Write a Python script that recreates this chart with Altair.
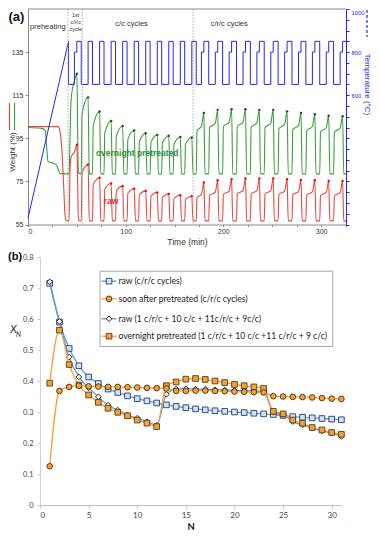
import altair as alt
import pandas as pd

# ================= (a) thermogravimetric run =================
# temperature programme (min, degC)
ramp_t = [0.0, 41.5]
ramp_temp = [30, 850]
first_crc_t = [41.5, 47.5, 50.0, 54.5]          # 650 start, 800 start, 850 start, 650 start
cc_high_start = [61.5, 73.3, 85.1, 96.9, 108.7, 120.5, 132.3, 144.1, 155.9, 167.7]
cc_high_len = 4.5
crc_notch_start = [177.5, 191.7, 205.9, 220.1, 234.3, 248.5, 262.7, 276.9, 291.1, 305.3, 319.5]
crc_notch_len = 2.5
crc_high_len = 5.0
T_LOW, T_MID, T_HIGH = 650, 800, 850
t_end = 325.5

# weight (%)
green_init_t = [0, 14, 17.5, 19.3, 20.5, 25, 29, 31, 33]
green_init_w = [100, 99.6, 98.8, 90, 84.2, 83.6, 82.8, 80.5, 78.6]
red_init_t = [0, 30.5, 32, 33.5, 35, 36.5, 37.8, 38.8]
red_init_w = [100.5, 100.4, 99.5, 96, 87, 73, 60, 56.9]
first_cycle_t = [42.0, 43.0, 44.0, 45.5, 47.5, 50.0, 50.8, 51.6]
green_first_w = [78.5, 95, 112, 118, 121.5, 125, 100, 79]
red_first_w = [56.7, 80, 86, 87.5, 88.5, 92, 75, 57]
green_base = 78.5
red_base = 56.7
green_cc_shoulder = [106, 101, 97.5, 96, 94.5, 93.5, 93, 92.8, 92.3, 92.2]
green_cc_peak = [114.0, 107.4, 103.0, 100.7, 98.6, 97.3, 96.6, 96.2, 95.6, 95.4]
red_cc_shoulder = [79, 73.5, 71.5, 70.5, 69.5, 68.8, 68.2, 67.6, 67.1, 66.7]
red_cc_peak = [82.8, 76.7, 74.0, 72.8, 71.6, 70.6, 69.9, 69.2, 68.6, 68.1]
green_crc_kink = [98.5, 100, 100.5, 100.5, 100.2, 100, 99.5, 99, 98.5, 98, 97.8]
green_crc_knee = [100.5, 102, 102.5, 102.5, 102.2, 102, 101.5, 101, 100.5, 100, 99.8]
green_crc_peak = [106.7, 108.2, 108.5, 108.5, 108.2, 108.2, 107.5, 106.7, 106.2, 105.5, 105.2]
red_crc_kink = [67.5, 68.5, 69.0, 69.2, 69.2, 69.2, 69.0, 68.8, 68.6, 68.4, 68.3]
red_crc_knee = [69.0, 70.0, 70.5, 70.7, 70.7, 70.7, 70.5, 70.3, 70.1, 69.9, 69.8]
red_crc_peak = [74.5, 75.5, 76.0, 76.3, 76.3, 76.3, 76.0, 75.7, 75.5, 75.2, 75.2]

phase_lines = [41.0, 55.5, 169.0]

# ================= (b) conversion per cycle =================
N = list(range(1, 32))
raw_crc = [0.715, 0.59, 0.505, 0.449, 0.413, 0.392, 0.374, 0.363, 0.352, 0.343, 0.336,
           0.329, 0.323, 0.318, 0.314, 0.31, 0.307, 0.304, 0.302, 0.3, 0.298, 0.296,
           0.294, 0.292, 0.289, 0.285, 0.283, 0.281, 0.279, 0.277, 0.275]
soon_crc = [0.125, 0.368, 0.381, 0.385, 0.383, 0.382, 0.381, 0.381, 0.38, 0.379, 0.378,
            0.377, 0.376, 0.368, 0.368, 0.369, 0.369, 0.368, 0.367, 0.366, 0.365, 0.364,
            0.363, 0.351, 0.35, 0.349, 0.348, 0.347, 0.345, 0.343, 0.342]
raw_mixed = [0.72, 0.592, 0.477, 0.413, 0.378, 0.349, 0.322, 0.306, 0.29, 0.28, 0.269,
             0.258, 0.357, 0.374, 0.375, 0.374, 0.373, 0.372, 0.371, 0.37, 0.369, 0.368,
             0.366, 0.30, 0.292, 0.269, 0.258, 0.248, 0.239, 0.232, 0.221]
overnight_mixed = [0.393, 0.564, 0.453, 0.387, 0.355, 0.331, 0.312, 0.299, 0.288, 0.274,
                   0.264, 0.253, 0.385, 0.397, 0.406, 0.408, 0.405, 0.4, 0.395, 0.389,
                   0.385, 0.381, 0.376, 0.302, 0.294, 0.274, 0.264, 0.25, 0.242, 0.234, 0.228]
legend_labels = ["raw (c/r/c cycles)",
                 "soon after pretreated (c/r/c cycles)",
                 "raw (1 c/r/c + 10 c/c + 11c/r/c + 9c/c)",
                 "overnight pretreated (1 c/r/c + 10 c/c +11 c/r/c + 9 c/c)"]

# ---------------- build tables ----------------
temp_pts = [(ramp_t[0], ramp_temp[0]), (ramp_t[1], ramp_temp[1]), (first_crc_t[0], T_LOW),
            (first_crc_t[1], T_LOW), (first_crc_t[1], T_MID), (first_crc_t[2], T_MID),
            (first_crc_t[2], T_HIGH), (first_crc_t[3], T_HIGH), (first_crc_t[3], T_LOW)]
for h in cc_high_start:
    temp_pts += [(h, T_LOW), (h, T_HIGH), (h + cc_high_len, T_HIGH), (h + cc_high_len, T_LOW)]
for r in crc_notch_start:
    top = r + crc_notch_len
    end = top + crc_high_len
    temp_pts += [(r, T_LOW), (r, T_MID), (top, T_MID), (top, T_HIGH)]
    if end <= t_end:
        temp_pts += [(end, T_HIGH), (end, T_LOW)]
    else:
        temp_pts += [(t_end, T_HIGH)]
temp_df = pd.DataFrame(temp_pts, columns=["t", "temp"])
temp_df["i"] = range(len(temp_df))


def weight_curve(init_t, init_w, first_w, base, cc_sh, cc_pk, crc_k1, crc_k2, crc_pk):
    pts = list(zip(init_t, init_w)) + list(zip(first_cycle_t, first_w))
    peaks = [(first_cycle_t[5], first_w[5])]
    prev_end = first_crc_t[3]
    for h, sh, pk in zip(cc_high_start, cc_sh, cc_pk):
        pts += [(prev_end, base), (prev_end + 0.8, sh), (h, pk), (h + 1.2, base)]
        peaks.append((h, pk))
        prev_end = h + cc_high_len
    for r, k1, k2, pk in zip(crc_notch_start, crc_k1, crc_k2, crc_pk):
        top = r + crc_notch_len
        pts += [(prev_end, base), (prev_end + 0.8, k1), (r, k2), (top, pk), (top + 1.2, base)]
        peaks.append((top, pk))
        prev_end = top + crc_high_len
    pts.append((t_end, base))
    return (pd.DataFrame(pts, columns=["t", "w"]), pd.DataFrame(peaks, columns=["t", "w"]))


green_df, green_pk = weight_curve(green_init_t, green_init_w, green_first_w, green_base,
                                  green_cc_shoulder, green_cc_peak, green_crc_kink,
                                  green_crc_knee, green_crc_peak)
red_df, red_pk = weight_curve(red_init_t, red_init_w, red_first_w, red_base,
                              red_cc_shoulder, red_cc_peak, red_crc_kink,
                              red_crc_knee, red_crc_peak)

# ---------------- layout (one view inside the page margins, px) ----------------
VW, VH = 364, 522
A_L, A_R, A_T, A_B = 20, 338, 1, 216.5       # panel (a) plot area
B_L, B_R, B_T, B_B = 32, 333.4, 249, 497     # panel (b) plot area

FA = "Liberation Sans"
FB = "Lato"
BLUE_T = "#2626D9"
GREEN = "#3C9E3C"
RED = "#E8463E"
one = pd.DataFrame({"a": [0]})

x_a = alt.X("t:Q", scale=alt.Scale(domain=[0, t_end], range=[A_L, A_R], nice=False, zero=False),
            axis=alt.Axis(orient="bottom", offset=A_B - VH, values=list(range(0, 326, 25)),
                          labelExpr="datum.value % 100 === 0 ? datum.label : ''",
                          title="Time (min)", titleFont=FA, titleFontSize=8.5,
                          titleFontWeight="normal", titleColor="#333", titlePadding=3,
                          labelFont=FA, labelFontSize=7, labelColor="#333", labelPadding=1,
                          tickSize=2, domainColor="#888", tickColor="#888", grid=False))
y_w = alt.Y("w:Q", scale=alt.Scale(domain=[55, 155], range=[A_B, A_T], nice=False, zero=False),
            axis=alt.Axis(orient="left", offset=-A_L, values=[55, 75, 95, 115, 135], title=None,
                          labelFont=FA, labelFontSize=7, labelColor="#333", labelPadding=2,
                          tickSize=3, domainColor="#888", tickColor="#888", grid=False))

green_line = alt.Chart(green_df).mark_line(interpolate="monotone", color=GREEN,
                                           strokeWidth=1.1).encode(x=x_a, y=y_w)
red_line = alt.Chart(red_df).mark_line(interpolate="monotone", color=RED,
                                       strokeWidth=1.1).encode(x=x_a, y=y_w)
green_tip = alt.Chart(green_pk).mark_circle(size=6, color="#145A14", opacity=1).encode(x=x_a, y=y_w)
red_tip = alt.Chart(red_pk).mark_circle(size=6, color="#FF0000", opacity=1).encode(x=x_a, y=y_w)
curve_labels = alt.Chart(pd.DataFrame({"t": [111.8, 84.9], "w": [88.3, 65.8],
                                       "txt": ["overnight pretreated", "raw"],
                                       "c": ["g", "r"]})).mark_text(
    font=FA, fontSize=8.5, fontWeight="bold").encode(
    x=x_a, y=y_w, text="txt:N",
    color=alt.Color("c:N", scale=alt.Scale(domain=["g", "r"], range=["#2E8B3A", "#E0302A"]),
                    legend=None))
weight_group = alt.layer(green_line, red_line, green_tip, red_tip, curve_labels)

temp_line = alt.Chart(temp_df).mark_line(color=BLUE_T, strokeWidth=1).encode(
    x=x_a,
    y=alt.Y("temp:Q", scale=alt.Scale(domain=[0, 1000], range=[A_B, A_T], nice=False),
            axis=alt.Axis(orient="right", offset=A_R - VW, values=list(range(0, 1001, 50)),
                          title=None,
                          labelExpr="datum.value >= 600 && datum.value % 200 === 0 ? datum.label : ''",
                          labelFont=FA, labelFontSize=5.8, labelColor=BLUE_T, labelPadding=2,
                          tickSize=3, domainColor=BLUE_T, tickColor=BLUE_T, labelFlush=True,
                          grid=False, format="d")),
    order="i:Q")

phase_rules = alt.Chart(pd.DataFrame({"t": phase_lines})).mark_rule(
    color="#A8A8A8", strokeDash=[1.5, 1.5], strokeWidth=1).encode(
    x=x_a, y=alt.value(A_T), y2=alt.value(A_B))
top_border = alt.Chart(one).mark_rule(color="#888").encode(
    x=alt.value(A_L), x2=alt.value(A_R), y=alt.value(A_T))

phase_txt = []
for t, yv, txt, fs in [(20.3, 18.5, "preheating", 7.5), (106, 15.5, "c/c cycles", 7.5),
                       (206, 16, "c/r/c cycles", 7.5), (48.8, 7, "1st", 5.5),
                       (48.8, 14, "c/r/c", 5.5), (48.8, 21, "cycle", 5.5)]:
    phase_txt.append(alt.Chart(pd.DataFrame({"t": [t], "txt": [txt]})).mark_text(
        font=FA, fontSize=fs, color="#333").encode(x=x_a, y=alt.value(yv), text="txt:N"))

label_a = alt.Chart(pd.DataFrame({"txt": ["(a)"]})).mark_text(
    font=FA, fontSize=13, fontWeight="bold", align="left", baseline="middle", color="#111").encode(
    x=alt.value(0.5), y=alt.value(9), text="txt:N")
red_key = alt.Chart(one).mark_rule(color=RED, strokeWidth=1.2).encode(
    x=alt.value(1.5), y=alt.value(95), y2=alt.value(122))
green_key = alt.Chart(one).mark_rule(color=GREEN, strokeWidth=1.2).encode(
    x=alt.value(6.5), y=alt.value(95), y2=alt.value(122))
weight_title = alt.Chart(pd.DataFrame({"txt": ["Weight (%)"]})).mark_text(
    font=FA, fontSize=8, angle=270, color="#333").encode(
    x=alt.value(4.8), y=alt.value(144), text="txt:N")
temp_title = alt.Chart(pd.DataFrame({"txt": ["Temperature (°C)"]})).mark_text(
    font=FA, fontSize=8, angle=90, color=BLUE_T).encode(
    x=alt.value(359), y=alt.value(76.5), text="txt:N")
temp_key = alt.Chart(one).mark_rule(color=BLUE_T, strokeWidth=1.2, strokeDash=[3, 2]).encode(
    x=alt.value(359), y=alt.value(2), y2=alt.value(29))

layer_a = alt.layer(weight_group, temp_line, phase_rules, top_border, *phase_txt,
                    label_a, red_key, green_key, weight_title, temp_title, temp_key
                    ).resolve_scale(y="independent")

# ---------------- panel (b) ----------------
BLUE = "#5B9BD5"
ORANGE = "#F4A13A"
MSIZE = 32
x_b = alt.X("N:Q", scale=alt.Scale(domain=[0, 31], range=[B_L, B_R], nice=False),
            axis=alt.Axis(orient="bottom", offset=B_B - VH, values=[0, 5, 10, 15, 20, 25, 30],
                          title="N", titleFont=FB, titleFontSize=9.5, titleFontWeight="bold",
                          titleColor="#222", titlePadding=2, labelFont=FB, labelFontSize=8,
                          labelColor="#444", labelPadding=3, tickSize=3, domainColor="#BFBFBF",
                          tickColor="#BFBFBF", grid=False))
y_b = alt.Y("v:Q", scale=alt.Scale(domain=[0, 0.8], range=[B_B, B_T], nice=False),
            axis=alt.Axis(orient="left", offset=-B_L,
                          values=[0, 0.1, 0.2, 0.3, 0.4, 0.5, 0.6, 0.7, 0.8], format=".1~f",
                          title=None, labelFont=FB, labelFontSize=7.5, labelColor="#444",
                          labelPadding=4, tickSize=3, domainColor="#D0D0D0",
                          tickColor="#D0D0D0", grid=False))

series = [
    (legend_labels[0], raw_crc, BLUE, "square", "#D3E1F2", "#1F3B73"),
    (legend_labels[2], raw_mixed, BLUE, "diamond", "#FFFFFF", "#111111"),
    (legend_labels[3], overnight_mixed, ORANGE, "square", ORANGE, "#5A3A10"),
    (legend_labels[1], soon_crc, ORANGE, "circle", ORANGE, "#4A300A"),
]
b_layers = []
for name, vals, lc, shp, fc, sc in series:
    df = pd.DataFrame({"N": N, "v": vals})
    b_layers.append(alt.Chart(df).mark_line(color=lc, strokeWidth=1.3,
                                            interpolate="monotone").encode(x=x_b, y=y_b))
    b_layers.append(alt.Chart(df).mark_point(shape=shp, filled=True, fill=fc, stroke=sc,
                                             strokeWidth=0.9, size=MSIZE, opacity=1).encode(x=x_b, y=y_b))

b_layers.append(alt.Chart(one).mark_rect(fill="white", stroke="#A6A6A6", strokeWidth=1).encode(
    x=alt.value(92), x2=alt.value(324.7), y=alt.value(263.2), y2=alt.value(338.5)))
row_y = [273.2, 290.8, 310.8, 328.2]
leg_style = {legend_labels[0]: (BLUE, "square", "#D3E1F2", "#1F3B73"),
             legend_labels[1]: (ORANGE, "circle", ORANGE, "#4A300A"),
             legend_labels[2]: (BLUE, "diamond", "#FFFFFF", "#111111"),
             legend_labels[3]: (ORANGE, "square", ORANGE, "#5A3A10")}
for lab, yv in zip(legend_labels, row_y):
    lc, shp, fc, sc = leg_style[lab]
    d = pd.DataFrame({"txt": [lab]})
    b_layers.append(alt.Chart(d).mark_rule(color=lc, strokeWidth=1.3).encode(
        x=alt.value(93.5), x2=alt.value(108.5), y=alt.value(yv)))
    b_layers.append(alt.Chart(d).mark_point(shape=shp, filled=True, fill=fc, stroke=sc,
                                            strokeWidth=0.9, size=MSIZE, opacity=1).encode(
        x=alt.value(101), y=alt.value(yv)))
    b_layers.append(alt.Chart(d).mark_text(font=FB, fontSize=8.6, align="left",
                                           color="#222").encode(
        x=alt.value(110.5), y=alt.value(yv), text="txt:N"))

b_layers.append(alt.Chart(pd.DataFrame({"txt": ["(b)"]})).mark_text(
    font=FA, fontSize=11, fontWeight="bold", align="left", baseline="middle",
    color="#111").encode(x=alt.value(0), y=alt.value(B_T), text="txt:N"))
b_layers.append(alt.Chart(pd.DataFrame({"txt": ["X"]})).mark_text(
    font=FB, fontSize=10.5, fontStyle="italic", color="#222").encode(
    x=alt.value(5.5), y=alt.value(322), text="txt:N"))
b_layers.append(alt.Chart(pd.DataFrame({"txt": ["N"]})).mark_text(
    font=FB, fontSize=7, fontStyle="italic", color="#222").encode(
    x=alt.value(10.5), y=alt.value(326.5), text="txt:N"))

layer_b = alt.layer(*b_layers)

chart = alt.layer(layer_a, layer_b).resolve_scale(x="independent", y="independent").properties(
    width=VW, height=VH, padding=0, autosize=alt.AutoSizeParams(type="none")
).configure_view(strokeWidth=0)
chart.save("out.html", embed_options={"renderer": "svg", "actions": False})
